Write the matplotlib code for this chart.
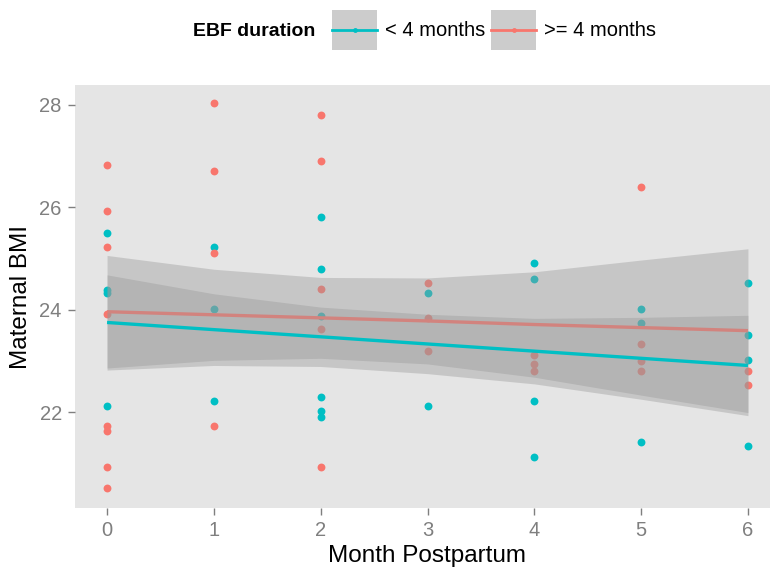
import matplotlib
matplotlib.use("Agg")
import matplotlib.pyplot as plt
from matplotlib.patches import Patch
from matplotlib.lines import Line2D
from matplotlib.legend_handler import HandlerTuple, HandlerLine2D

plt.rcParams['font.family'] = ['Liberation Sans', 'DejaVu Sans']

# ---- data ----
groups = ["< 4 months", ">= 4 months"]
colors = ["#00BFC4", "#F8766D"]

month_lt4 = [0, 0, 0, 0, 1, 1, 1, 2, 2, 2, 2, 2, 2, 3, 3, 4, 4, 4, 4, 5, 5, 5, 6, 6, 6, 6]
bmi_lt4 = [25.50, 24.39, 24.33, 22.11, 25.23, 24.02, 22.21, 25.81, 24.80, 23.88, 22.30, 22.03, 21.91,
           24.33, 22.11, 24.92, 24.60, 22.21, 21.12, 24.02, 23.73, 21.41, 24.53, 23.51, 23.01, 21.33]

month_ge4 = [0, 0, 0, 0, 0, 0, 0, 0, 1, 1, 1, 1, 2, 2, 2, 2, 2, 3, 3, 3, 4, 4, 4, 5, 5, 5, 5, 6, 6]
bmi_ge4 = [26.83, 25.93, 25.23, 23.92, 21.72, 21.62, 20.92, 20.51, 28.03, 26.71, 25.11, 21.72,
           27.80, 26.90, 24.41, 23.63, 20.92, 24.53, 23.84, 23.19, 23.11, 22.93, 22.81,
           26.40, 23.32, 22.99, 22.81, 22.81, 22.52]

# fitted lm lines and 95% confidence bands at each month
fit_month = [0, 1, 2, 3, 4, 5, 6]
fit_lt4 = [23.75, 23.61, 23.47, 23.33, 23.19, 23.05, 22.91]
upper_lt4 = [24.68, 24.31, 24.05, 23.91, 23.83, 23.85, 23.89]
lower_lt4 = [22.82, 22.91, 22.89, 22.75, 22.55, 22.25, 21.93]
fit_ge4 = [23.96, 23.90, 23.84, 23.78, 23.71, 23.65, 23.59]
upper_ge4 = [25.06, 24.79, 24.63, 24.62, 24.74, 24.97, 25.19]
lower_ge4 = [22.86, 23.01, 23.05, 22.94, 22.68, 22.33, 21.99]

x_ticks = [0, 1, 2, 3, 4, 5, 6]
y_ticks = [22, 24, 26, 28]

# ---- figure ----
W, H = 770, 578
fig = plt.figure(figsize=(W / 100, H / 100), dpi=100)
left, right, top, bottom = 75, 780, 85, 508
ax = fig.add_axes([left / W, 1 - bottom / H, (right - left) / W, (bottom - top) / H])
ax.set_facecolor("#E5E5E5")
for s in ax.spines.values():
    s.set_visible(False)

# points
ax.scatter(month_lt4, bmi_lt4, s=32, color=colors[0], linewidths=0, zorder=2)
ax.scatter(month_ge4, bmi_ge4, s=32, color=colors[1], linewidths=0, zorder=2)

# smooth layers: red group first, then cyan group
ax.fill_between(fit_month, lower_ge4, upper_ge4, color="#999999", alpha=0.4, linewidth=0, zorder=3)
ax.plot(fit_month, fit_ge4, color=colors[1], lw=2.4, zorder=3, solid_capstyle='butt')
ax.fill_between(fit_month, lower_lt4, upper_lt4, color="#999999", alpha=0.4, linewidth=0, zorder=3)
ax.plot(fit_month, fit_lt4, color=colors[0], lw=2.4, zorder=3, solid_capstyle='butt')

ax.set_xlim(-0.3, 6.3)
ax.set_ylim(20.125, 28.39)
ax.set_xticks(x_ticks)
ax.set_yticks(y_ticks)
ax.tick_params(axis='both', colors="#7F7F7F", labelcolor="#7F7F7F", length=5, width=1,
               labelsize=14.5, pad=4.5)

fig.text(427 / W, 1 - 556 / H, "Month Postpartum", ha='center', va='center', fontsize=17.5)
fig.text(21 / W, 1 - 297 / H, "Maternal BMI", ha='center', va='center', rotation=90, fontsize=17.5)


class CenteredLine(HandlerLine2D):
    """Line handler that sits in the vertical middle of the key box."""
    def create_artists(self, legend, orig_handle, xdescent, ydescent, width, height,
                       fontsize, trans):
        return super().create_artists(legend, orig_handle, xdescent, ydescent, width,
                                      height - ydescent, fontsize, trans)


# legend
handles = []
for c in colors:
    handles.append((Patch(facecolor="#CCCCCC", edgecolor="none"),
                    Line2D([], [], color=c, lw=2.0, marker='o', markersize=3.5,
                           markeredgewidth=0)))
fs = 14.5
fspx = fs * 100 / 72
key_h = 40 / fspx
hh = (key_h - 0.245) / 0.65
leg = fig.legend(handles, groups,
                 handler_map={tuple: HandlerTuple(ndivide=1), Line2D: CenteredLine()},
                 loc='center left', bbox_to_anchor=(332 / W, 1 - 30 / H), ncol=2,
                 frameon=False, fontsize=fs, numpoints=1, borderpad=0, borderaxespad=0,
                 handlelength=45 / fspx, handleheight=hh, handletextpad=8 / fspx,
                 columnspacing=6 / fspx)
fig.text(193 / W, 1 - 31 / H, "EBF duration", ha='left', va='center', fontsize=14, fontweight='bold')

fig.savefig("out.png", dpi=100)
